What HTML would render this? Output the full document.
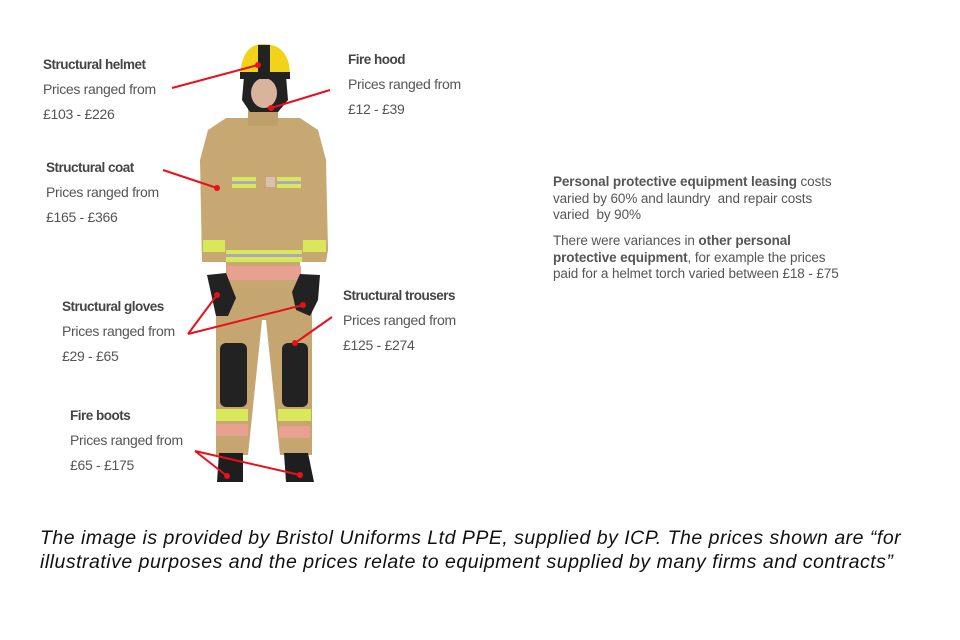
<!DOCTYPE html>
<html><head><meta charset="utf-8"><style>
body{margin:0;width:960px;height:640px;background:#fff;position:relative;overflow:hidden;font-family:"Liberation Sans",sans-serif}
.l{position:absolute;line-height:25px;font-size:14px;color:#555;letter-spacing:-0.3px;white-space:nowrap}
.l b{color:#444;font-size:13.5px;letter-spacing:-0.5px}
.r{position:absolute;left:553px;font-size:13.5px;line-height:16.5px;color:#555;letter-spacing:-0.1px;white-space:nowrap}
.r b{color:#555}
.cap{position:absolute;left:40px;top:526px;font-size:19.5px;line-height:24px;font-style:italic;color:#111;white-space:nowrap;letter-spacing:0.5px}
svg{position:absolute;left:0;top:0}
</style></head><body>
<svg width="960" height="640">
<g>
<path d="M226 118 L300 118 L318 130 L326 160 L328 250 L326 262 L300 262 L300 290 L226 290 L226 262 L202 262 L200 160 L208 130 Z" fill="#c8a872"/>
<rect x="248" y="108" width="30" height="18" fill="#bfa06a"/>
<path d="M216 288 L312 288 L312 455 L280 455 L266 320 L262 320 L248 455 L216 455 Z" fill="#c6a670"/>
<rect x="220" y="343" width="27" height="64" rx="6" fill="#222"/>
<rect x="282" y="343" width="26" height="64" rx="6" fill="#222"/>
<rect x="232" y="177" width="24" height="11" fill="#d8e85a"/><rect x="232" y="181" width="24" height="3" fill="#aab"/>
<rect x="277" y="177" width="24" height="11" fill="#d8e85a"/><rect x="277" y="181" width="24" height="3" fill="#aab"/>
<rect x="226" y="250" width="76" height="12" fill="#d8e85a"/><rect x="226" y="254" width="76" height="3" fill="#aab"/>
<rect x="203" y="240" width="22" height="12" fill="#d8e85a"/><rect x="303" y="240" width="23" height="12" fill="#d8e85a"/>
<rect x="227" y="266" width="74" height="14" fill="#e8a090"/>
<rect x="216" y="409" width="32" height="12" fill="#d8e85a"/><rect x="278" y="409" width="33" height="12" fill="#d8e85a"/>
<rect x="216" y="424" width="32" height="12" fill="#e8a090"/><rect x="279" y="426" width="31" height="12" fill="#e8a090"/>
<rect x="266" y="177" width="9" height="10" fill="#d9c0b0"/>
<path d="M207 275 L226 273 L236 298 L228 316 L216 316 Z" fill="#222"/>
<path d="M300 274 L320 275 L318 300 L310 316 L296 310 L292 292 Z" fill="#222"/>
<path d="M219 453 L243 453 L243 482 L217 482 Z" fill="#1e1e1e"/>
<path d="M284 453 L308 453 L314 482 L286 482 Z" fill="#1e1e1e"/>
<path d="M244 76 L286 76 L288 100 L278 112 L250 112 L242 100 Z" fill="#222"/>
<ellipse cx="264" cy="93" rx="13" ry="15" fill="#d9b39b"/>
<path d="M240 76 Q242 42 266 44 Q290 46 290 76 Z" fill="#f2d21a"/>
<rect x="240" y="72" width="50" height="7" fill="#222"/>
<rect x="258" y="45" width="12" height="30" fill="#222"/>
</g>
<g stroke="#e8101a" stroke-width="2" fill="none">
<line x1="172" y1="88" x2="258" y2="65"/>
<line x1="330" y1="90" x2="271" y2="108"/>
<line x1="163" y1="170" x2="217" y2="188"/>
<line x1="188" y1="334" x2="217" y2="295"/>
<line x1="188" y1="334" x2="303" y2="305"/>
<line x1="332" y1="317" x2="295" y2="343"/>
<line x1="195" y1="451" x2="227" y2="476"/>
<line x1="195" y1="451" x2="300" y2="475"/>
</g>
<g fill="#e8101a">
<circle cx="258" cy="65" r="3"/><circle cx="271" cy="108" r="3"/><circle cx="217" cy="188" r="3"/>
<circle cx="217" cy="295" r="3"/><circle cx="303" cy="305" r="3"/><circle cx="295" cy="343" r="3"/>
<circle cx="227" cy="476" r="3"/><circle cx="300" cy="475" r="3"/>
</g>
</svg>
<div class="l" style="left:43px;top:52px"><b>Structural helmet</b><br>Prices ranged from<br>£103 - £226</div>
<div class="l" style="left:348px;top:47px"><b>Fire hood</b><br>Prices ranged from<br>£12 - £39</div>
<div class="l" style="left:46px;top:155px"><b>Structural coat</b><br>Prices ranged from<br>£165 - £366</div>
<div class="l" style="left:62px;top:294px"><b>Structural gloves</b><br>Prices ranged from<br>£29 - £65</div>
<div class="l" style="left:343px;top:283px"><b>Structural trousers</b><br>Prices ranged from<br>£125 - £274</div>
<div class="l" style="left:70px;top:403px"><b>Fire boots</b><br>Prices ranged from<br>£65 - £175</div>
<div class="r" style="top:174px"><b>Personal protective equipment leasing</b> costs<br>varied by 60% and laundry &nbsp;and repair costs<br>varied &nbsp;by 90%</div>
<div class="r" style="top:233px">There were variances in <b>other personal</b><br><b>protective equipment</b>, for example the prices<br>paid for a helmet torch varied between £18 - £75</div>
<div class="cap">The image is provided by Bristol Uniforms Ltd PPE, supplied by ICP. The prices shown are “for<br>illustrative purposes and the prices relate to equipment supplied by many firms and contracts”</div>
</body></html>
